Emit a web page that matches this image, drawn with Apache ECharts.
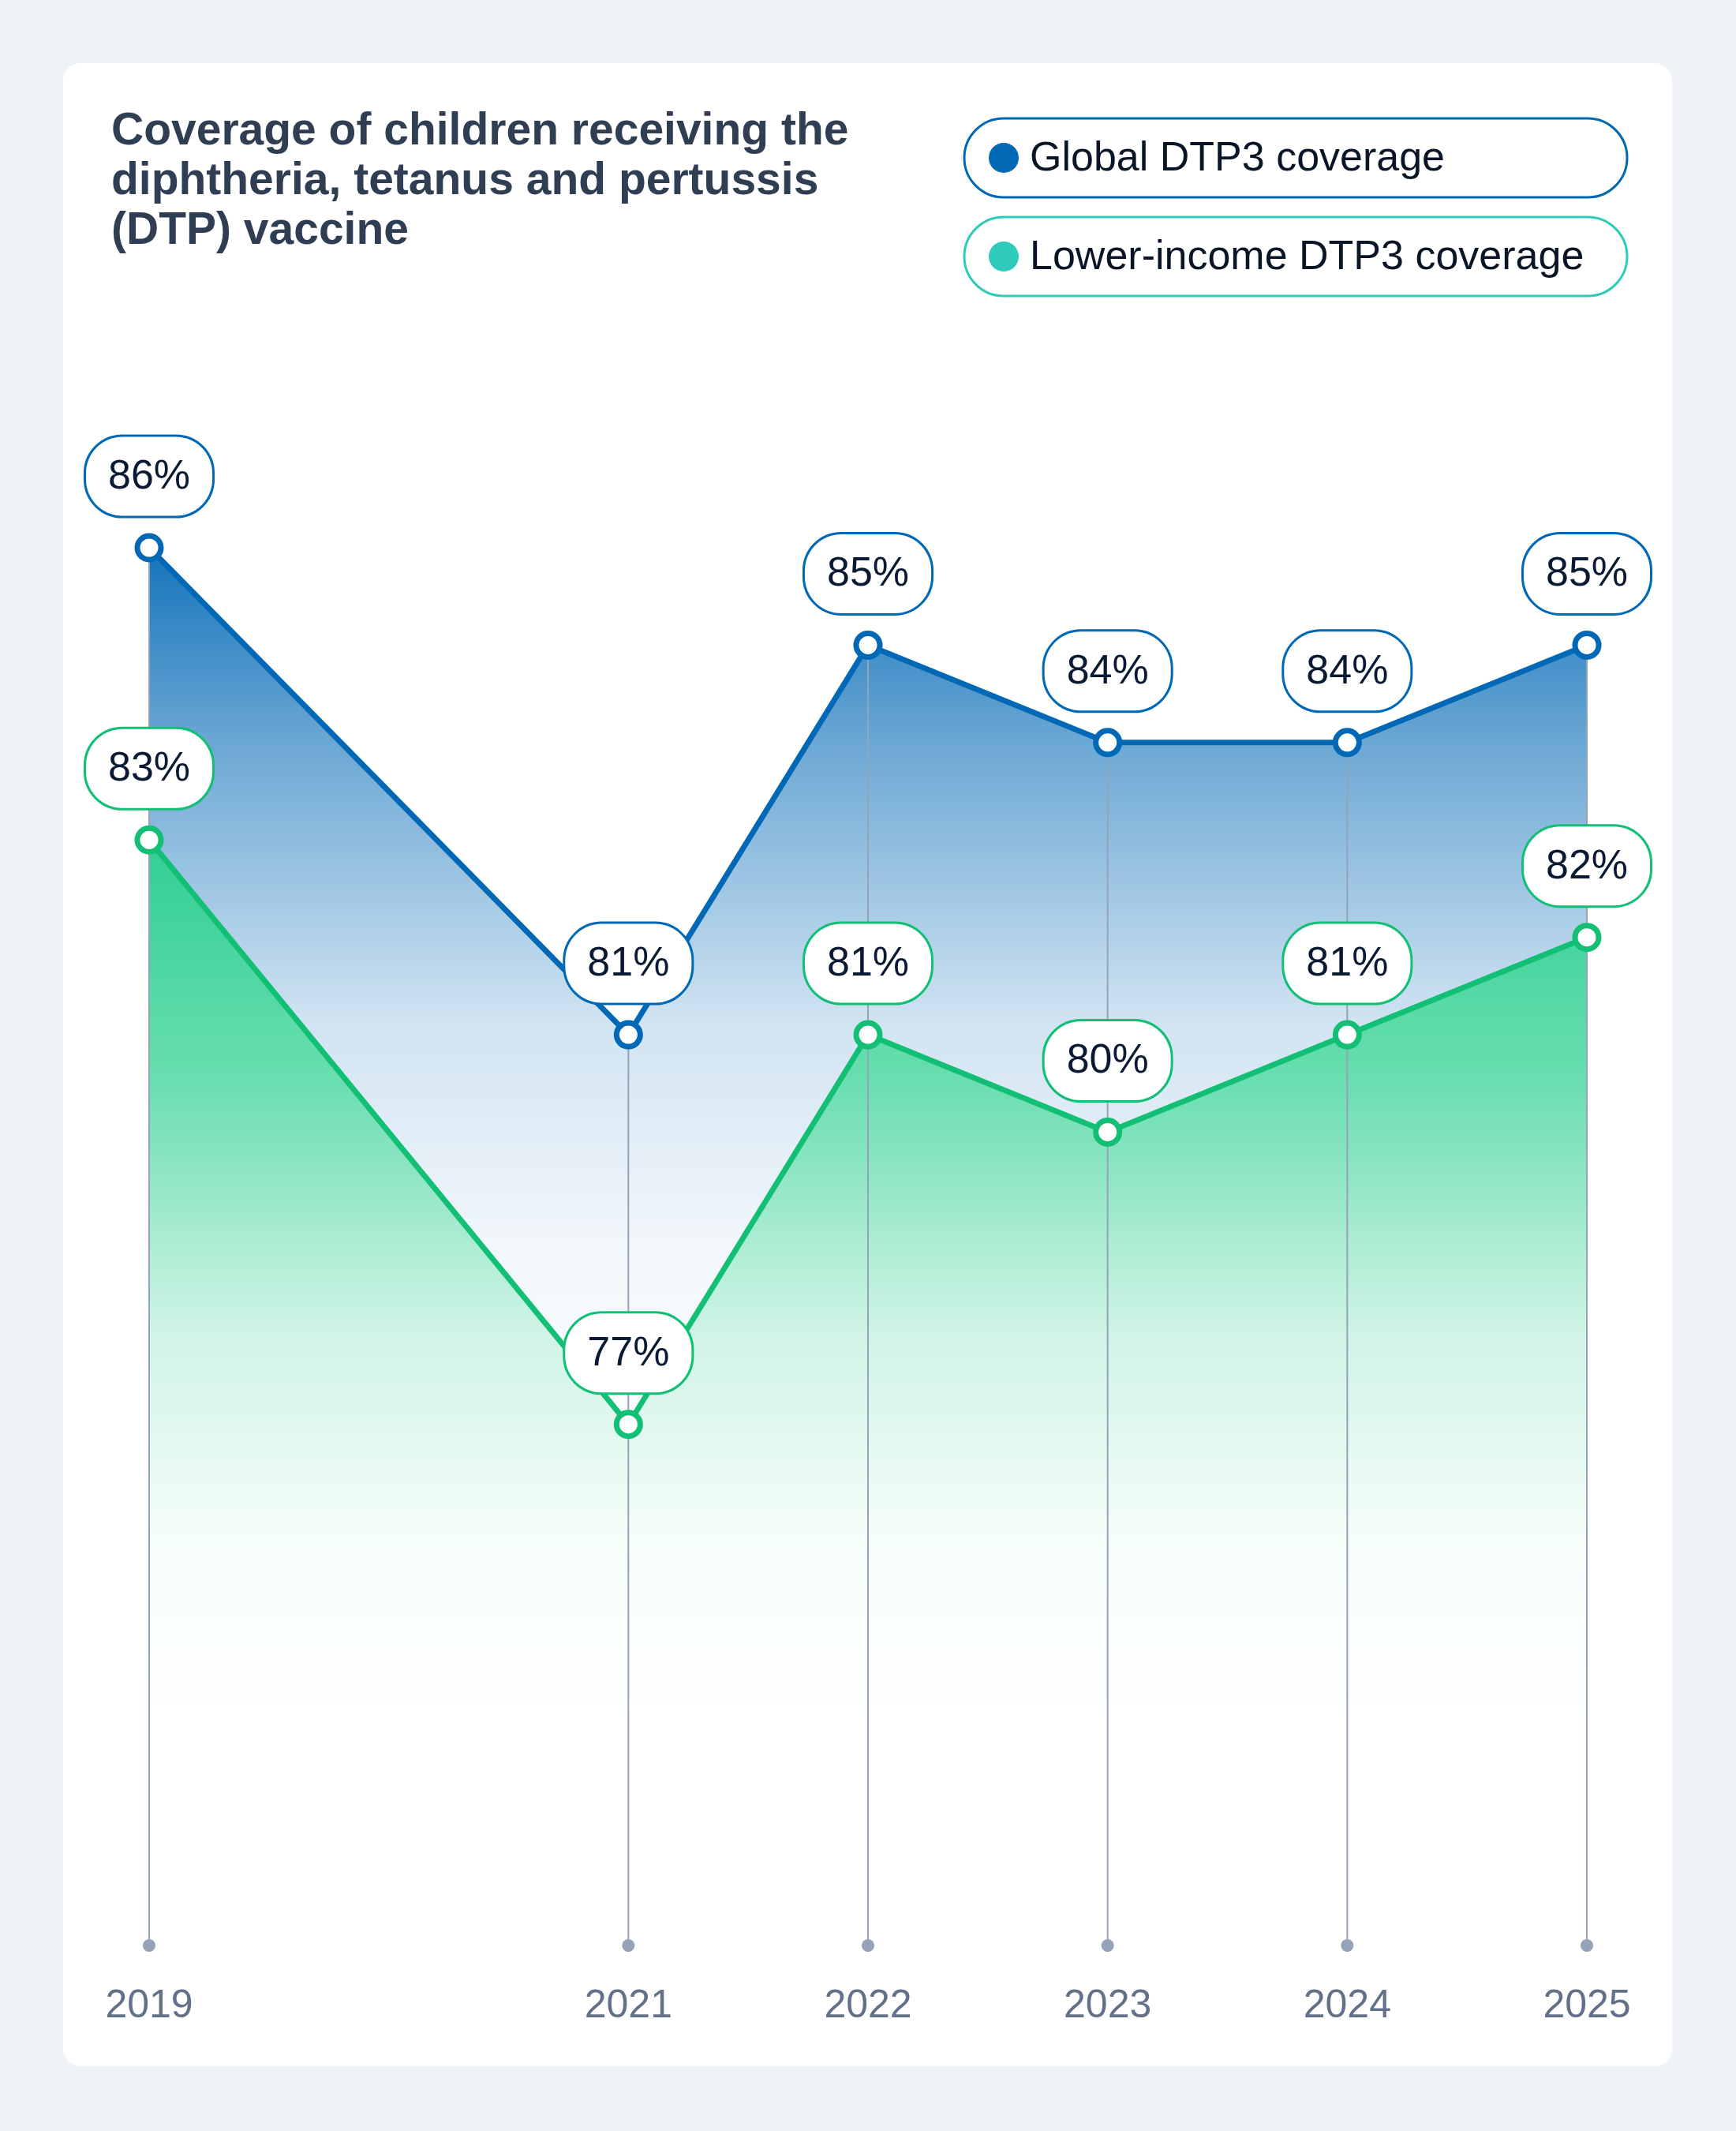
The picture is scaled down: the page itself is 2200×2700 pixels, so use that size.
<!DOCTYPE html>
<html>
<head>
<meta charset="utf-8">
<script src="https://cdn.jsdelivr.net/npm/echarts@6/dist/echarts.min.js"></script>
<style>
  html, body { margin: 0; padding: 0; background: #eff3f8; }
  #main { width: 2200px; height: 2700px; }
</style>
</head>
<body>
<div id="main"></div>
<script>
// data
var years = [2019, 2021, 2022, 2023, 2024, 2025];
var globalCov = [86, 81, 85, 84, 84, 85];
var lowerCov = [83, 77, 81, 80, 81, 82];
var yMin = 71.65, yMax = 86;

var blue = '#0068b5';
var green = '#12bf75';
var teal = '#2ecbbb';
var font = 'Liberation Sans';

function pairs(vals) {
    return years.map(function (y, i) { return [y, vals[i]]; });
}

function pillLabel(color) {
    return {
        show: true,
        position: 'top',
        distance: 22,
        formatter: '{@[1]}%',
        fontFamily: font,
        fontSize: 52,
        color: '#0b1a33',
        backgroundColor: '#fff',
        borderColor: color,
        borderWidth: 3,
        borderRadius: 46,
        padding: [25, 28, 23, 28],
        lineHeight: 52
    };
}

var myChart = echarts.init(document.getElementById('main'));

myChart.setOption({
    backgroundColor: '#eff3f8',
    animation: false,
    grid: { left: 189, right: 189, top: 694, bottom: 235 },
    xAxis: {
        type: 'value',
        min: 2019,
        max: 2025,
        interval: 1,
        axisLine: { show: false },
        axisTick: { show: false },
        splitLine: { show: false },
        axisLabel: {
            customValues: years,
            color: '#62708a',
            fontFamily: font,
            fontSize: 50,
            margin: 52,
            formatter: function (v) { return String(v); }
        }
    },
    yAxis: { type: 'value', min: yMin, max: yMax, show: false },
    graphic: [
        {
            type: 'rect', z: -10,
            shape: { x: 80, y: 80, width: 2039, height: 2538, r: 22 },
            style: { fill: '#ffffff' }
        },
        {
            type: 'text', left: 141, top: 136,
            style: {
                text: 'Coverage of children receiving the\ndiphtheria, tetanus and pertussis\n(DTP) vaccine',
                font: 'bold 57px "Liberation Sans"',
                fill: '#2f3e52',
                lineHeight: 63
            }
        },
        {
            type: 'rect',
            shape: { x: 1222, y: 150, width: 840, height: 100, r: 50 },
            style: { fill: '#fff', stroke: blue, lineWidth: 3 }
        },
        {
            type: 'circle',
            shape: { cx: 1272, cy: 200, r: 19 },
            style: { fill: blue }
        },
        {
            type: 'text', x: 1305, y: 202,
            style: { text: 'Global DTP3 coverage', font: '52px "Liberation Sans"', fill: '#0a1628', verticalAlign: 'middle' }
        },
        {
            type: 'rect',
            shape: { x: 1222, y: 275, width: 840, height: 100, r: 50 },
            style: { fill: '#fff', stroke: teal, lineWidth: 3 }
        },
        {
            type: 'circle',
            shape: { cx: 1272, cy: 325, r: 19 },
            style: { fill: teal }
        },
        {
            type: 'text', x: 1305, y: 327,
            style: { text: 'Lower-income DTP3 coverage', font: '52px "Liberation Sans"', fill: '#0a1628', verticalAlign: 'middle' }
        }
    ],
    series: [
        {
            name: 'Global area',
            type: 'line',
            z: 1,
            data: pairs(globalCov),
            symbol: 'none',
            lineStyle: { width: 0 },
            areaStyle: {
                origin: 'start',
                opacity: 1,
                color: new echarts.graphic.LinearGradient(0, 0, 0, 1, [
                    { offset: 0, color: 'rgba(0,104,181,0.92)' },
                    { offset: 0.14, color: 'rgba(0,104,181,0.58)' },
                    { offset: 0.34, color: 'rgba(0,104,181,0.18)' },
                    { offset: 0.5, color: 'rgba(0,104,181,0.05)' },
                    { offset: 0.7, color: 'rgba(0,104,181,0)' },
                    { offset: 1, color: 'rgba(0,104,181,0)' }
                ])
            },
            silent: true
        },
        {
            name: 'Lower area',
            type: 'line',
            z: 1,
            data: pairs(lowerCov),
            symbol: 'none',
            lineStyle: { width: 0 },
            areaStyle: {
                origin: 'start',
                opacity: 1,
                color: new echarts.graphic.LinearGradient(0, 0, 0, 1, [
                    { offset: 0, color: 'rgba(22,214,125,0.76)' },
                    { offset: 0.2, color: 'rgba(22,214,125,0.6)' },
                    { offset: 0.45, color: 'rgba(22,214,125,0.17)' },
                    { offset: 0.64, color: 'rgba(22,214,125,0.04)' },
                    { offset: 0.8, color: 'rgba(22,214,125,0)' },
                    { offset: 1, color: 'rgba(22,214,125,0)' }
                ])
            },
            silent: true
        },
        {
            name: 'Drop lines',
            type: 'custom',
            z: 2,
            data: pairs(globalCov),
            renderItem: function (params, api) {
                var top = api.coord([api.value(0), api.value(1)]);
                var bot = api.coord([api.value(0), yMin]);
                return {
                    type: 'group',
                    children: [
                        {
                            type: 'line',
                            shape: { x1: top[0], y1: top[1], x2: bot[0], y2: bot[1] },
                            style: { stroke: '#94a3b8', lineWidth: 2 }
                        },
                        {
                            type: 'circle',
                            shape: { cx: bot[0], cy: bot[1], r: 8 },
                            style: { fill: '#94a3b8' }
                        }
                    ]
                };
            },
            silent: true
        },
        {
            name: 'Global DTP3 coverage',
            type: 'line',
            z: 3,
            data: pairs(globalCov),
            symbol: 'circle',
            symbolSize: 30,
            itemStyle: { color: '#fff', borderColor: blue, borderWidth: 7 },
            lineStyle: { color: blue, width: 7 },
            label: pillLabel(blue)
        },
        {
            name: 'Lower-income DTP3 coverage',
            type: 'line',
            z: 3,
            data: pairs(lowerCov),
            symbol: 'circle',
            symbolSize: 30,
            itemStyle: { color: '#fff', borderColor: green, borderWidth: 7 },
            lineStyle: { color: green, width: 7 },
            label: pillLabel(green)
        }
    ]
});
</script>
</body>
</html>
